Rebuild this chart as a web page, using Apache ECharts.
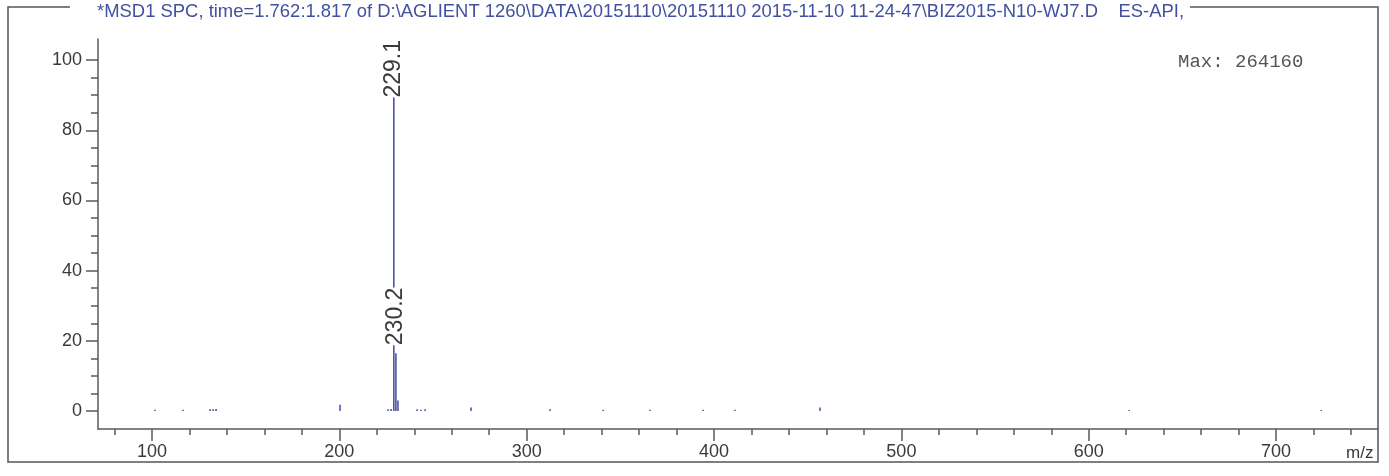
<!DOCTYPE html>
<html>
<head>
<meta charset="utf-8">
<script src="https://cdn.jsdelivr.net/npm/echarts@6/dist/echarts.min.js"></script>
<style>
html,body{margin:0;padding:0;background:#fff;}
#chart{width:1389px;height:476px;}
</style>
</head>
<body>
<div id="chart"></div>
<script>
// ---- data ----
const titleText = '*MSD1 SPC, time=1.762:1.817 of D:\\AGLIENT 1260\\DATA\\20151110\\20151110 2015-11-10 11-24-47\\BIZ2015-N10-WJ7.D    ES-API,';
const maxText = 'Max: 264160';
const xAxisName = 'm/z';
const peakMz =        [101.6, 116.6, 131.0, 132.6, 134.2, 200.4, 226.0, 227.6, 229.1, 230.2, 231.3, 241.5, 243.6, 245.8, 270.3, 312.5, 340.8, 365.9, 394.2, 411.2, 456.6, 621.6, 724.1];
const peakIntensity = [0.4,   0.4,   0.5,   0.5,   0.6,   1.8,   0.5,   0.6,   100,   16.5,  3.0,   0.5,   0.4,   0.5,   1.0,   0.5,   0.4,   0.4,   0.4,   0.4,   1.0,   0.3,   0.3];
const labeledPeaks = [229.1, 230.2];
const xMajorTicks = [100, 200, 300, 400, 500, 600, 700];
const xMinorTicks = [80, 120, 140, 160, 180, 220, 240, 260, 280, 320, 340, 360, 380, 420, 440, 460, 480, 520, 540, 560, 580, 620, 640, 660, 680, 720, 740];
const yMajorTicks = [0, 20, 40, 60, 80, 100];
const yMinorTicks = [5, 10, 15, 25, 30, 35, 45, 50, 55, 65, 70, 75, 85, 90, 95];
const xRange = [71.2, 754.4];
const yRange = [-5.1, 106.0];

// ---- build ----
const chart = echarts.init(document.getElementById('chart'), null, {renderer: 'canvas'});
const axisColor = '#5a5a5a';
const textColor = '#3a3a3a';
const peakColor = '#3d4a9c';
const titleFont = '19px "Liberation Sans"';

const barData = peakMz.map((mz, i) => {
  const item = {value: [mz, peakIntensity[i]]};
  if (labeledPeaks.indexOf(mz) >= 0) {
    const nearTop = peakIntensity[i] > 90;
    item.label = {
      show: true,
      formatter: mz.toFixed(1),
      position: 'top',
      rotate: 90,
      align: nearTop ? 'right' : 'left',
      verticalAlign: 'middle',
      distance: nearTop ? 20 : 8,
      color: textColor,
      fontFamily: 'Liberation Sans',
      fontSize: 23,
      backgroundColor: '#fff'
    };
  }
  return item;
});

// measure title for condensed look
const ctx = document.createElement('canvas').getContext('2d');
ctx.font = titleFont;
const titleW = ctx.measureText(titleText).width;
const titleScale = 1087 / titleW;

const baseAxis = {
  type: 'value',
  min: xRange[0], max: xRange[1],
  position: 'bottom',
  splitLine: {show: false}
};

const option = {
  animation: false,
  backgroundColor: '#fff',
  grid: {left: 98, right: 11, top: 39, bottom: 47, outerBoundsMode: 'none', containLabel: false},
  xAxis: [
    Object.assign({}, baseAxis, {
      axisLine: {show: true, onZero: false, lineStyle: {color: axisColor, width: 1.5}},
      axisTick: {show: true, inside: false, customValues: xMajorTicks, length: 12, lineStyle: {color: axisColor, width: 1.5}},
      axisLabel: {show: true, customValues: xMajorTicks, margin: 14, color: textColor, fontFamily: 'Liberation Sans', fontSize: 18}
    }),
    Object.assign({}, baseAxis, {
      axisLine: {show: false, onZero: false},
      axisTick: {show: true, inside: false, customValues: xMinorTicks, length: 6, lineStyle: {color: axisColor, width: 1.5}},
      axisLabel: {show: false}
    })
  ],
  yAxis: [
    {
      type: 'value', min: yRange[0], max: yRange[1], position: 'left',
      splitLine: {show: false},
      axisLine: {show: true, onZero: false, lineStyle: {color: axisColor, width: 1.5}},
      axisTick: {show: true, inside: false, customValues: yMajorTicks, length: 12, lineStyle: {color: axisColor, width: 1.5}},
      axisLabel: {show: true, customValues: yMajorTicks, margin: 16, color: textColor, fontFamily: 'Liberation Sans', fontSize: 18}
    },
    {
      type: 'value', min: yRange[0], max: yRange[1], position: 'left',
      splitLine: {show: false},
      axisLine: {show: false, onZero: false},
      axisTick: {show: true, inside: false, customValues: yMinorTicks, length: 7, lineStyle: {color: axisColor, width: 1.5}},
      axisLabel: {show: false}
    }
  ],
  series: [{
    type: 'bar',
    xAxisIndex: 0, yAxisIndex: 0,
    barWidth: 1.5,
    itemStyle: {color: peakColor},
    data: barData,
    z: 3
  }],
  graphic: [
    {type: 'rect', shape: {x: 8, y: 7, width: 1370, height: 455}, style: {fill: 'none', stroke: '#555', lineWidth: 1.5}, z: 1, silent: true},
    {type: 'rect', shape: {x: 70, y: 3, width: 1120, height: 10}, style: {fill: '#fff'}, z: 2, silent: true},
    {type: 'text', x: 97, y: 12, scaleX: titleScale, style: {text: titleText, font: titleFont, fill: '#4150a0', verticalAlign: 'middle', align: 'left'}, z: 3, silent: true},
    {type: 'text', x: 1178, y: 62, style: {text: maxText, font: '19px "Liberation Mono"', fill: '#555', verticalAlign: 'middle'}, z: 3, silent: true},
    {type: 'text', x: 1346, y: 453, style: {text: xAxisName, font: '17px "Liberation Sans"', fill: textColor, verticalAlign: 'middle'}, z: 3, silent: true}
  ]
};
chart.setOption(option);
</script>
</body>
</html>
